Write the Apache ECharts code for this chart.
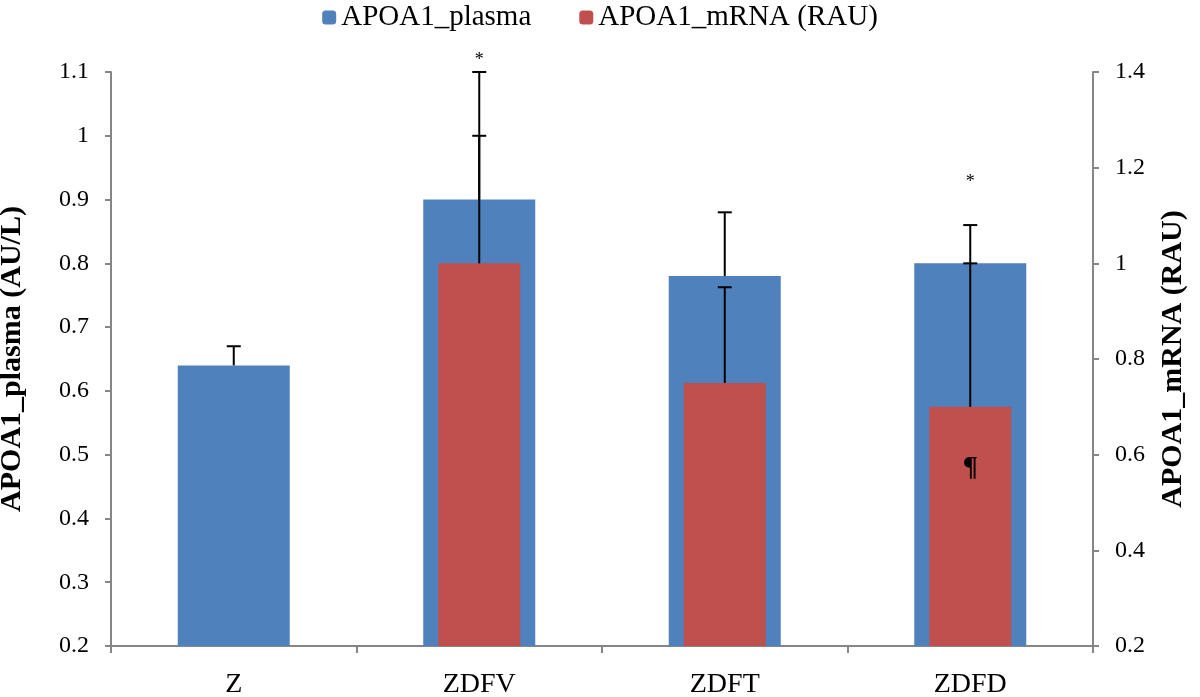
<!DOCTYPE html>
<html>
<head>
<meta charset="utf-8">
<script src="https://cdn.jsdelivr.net/npm/echarts@6/dist/echarts.min.js"></script>
<style>
  html, body { margin: 0; padding: 0; background: #fff; }
  #main { width: 1200px; height: 697px; }
</style>
</head>
<body>
<div id="main"></div>
<script>
// groups on the x axis
var groups = ['Z', 'ZDFV', 'ZDFT', 'ZDFD'];
// plasma (left axis, AU/L) and its + error
var plasma = [0.64, 0.90, 0.78, 0.80];
var plasmaErr = [0.03, 0.10, 0.10, 0.06];
// mRNA (right axis, RAU) and its + error, no value for Z
var mrna = [null, 1.0, 0.75, 0.70];
var mrnaErr = [null, 0.40, 0.20, 0.30];
// significance marks, placed on the left axis scale
var markGroup = [1, 3, 3];
var markValue = [1.118, 0.927, 0.480];
var markText = ['*', '*', '¶'];

var FONT = '"Liberation Serif", "Times New Roman", serif';
var GREY = '#868686';

function errData(vals, errs){
	var out = [];
	vals.forEach(function(v, i){
		if (v != null && errs[i] != null) out.push([i, v, errs[i]]);
	});
	return out;
}

// plus-only error bar with a cap at the top
function renderErr(params, api){
	var x = api.value(0);
	var lo = api.value(1);
	var hi = lo + api.value(2);
	var p0 = api.coord([x, lo]);
	var p1 = api.coord([x, hi]);
	var half = 7;
	return {
		type: 'group',
		children: [
			{type: 'line', shape: {x1: p0[0], y1: p0[1], x2: p1[0], y2: p1[1]}, style: {stroke: '#000', lineWidth: 2}},
			{type: 'line', shape: {x1: p1[0] - half, y1: p1[1], x2: p1[0] + half, y2: p1[1]}, style: {stroke: '#000', lineWidth: 2}}
		]
	};
}

function renderMark(params, api){
	var p = api.coord([api.value(0), api.value(1)]);
	var t = markText[params.dataIndex];
	return {
		type: 'text',
		x: p[0], y: p[1],
		style: {
			text: t,
			fill: '#000',
			font: (t == '*' ? '18px ' : 'bold 28px ') + FONT,
			align: 'center',
			verticalAlign: 'middle'
		}
	};
}

var markData = markGroup.map(function(g, i){ return [g, markValue[i]]; });

var chart = echarts.init(document.getElementById('main'));
var option = {
	animation: false,
	textStyle: {fontFamily: FONT, color: '#000'},
	legend: {
		top: 0,
		padding: [3, 5],
		left: 'center',
		itemWidth: 14,
		itemHeight: 14,
		itemGap: 48,
		data: ['APOA1_plasma', 'APOA1_mRNA (RAU)'],
		textStyle: {fontFamily: FONT, fontSize: 29, color: '#000'}
	},
	grid: {left: 111, right: 107, top: 72, bottom: 51, containLabel: false, outerBoundsMode: 'none'},
	xAxis: [
		{
			type: 'category',
			data: groups,
			axisLine: {lineStyle: {color: GREY, width: 2}},
			axisTick: {show: true, length: 7, lineStyle: {color: GREY, width: 2}},
			axisLabel: {fontFamily: FONT, fontSize: 28, color: '#000', margin: 25}
		},
		{
			type: 'category',
			data: groups,
			show: false
		}
	],
	yAxis: [
		{
			type: 'value',
			min: 0.2, max: 1.1, interval: 0.1,
			name: 'APOA1_plasma (AU/L)',
			nameLocation: 'middle',
			nameGap: 84,
			nameMoveOverlap: false,
			nameTextStyle: {fontFamily: FONT, fontSize: 30, fontWeight: 'bold', color: '#000'},
			axisLine: {show: true, lineStyle: {color: GREY, width: 2}},
			axisTick: {show: true, length: 6, lineStyle: {color: GREY, width: 2}},
			splitLine: {show: false},
			axisLabel: {fontFamily: FONT, fontSize: 24, color: '#000', margin: 22}
		},
		{
			type: 'value',
			min: 0.2, max: 1.4, interval: 0.2,
			name: 'APOA1_mRNA (RAU)',
			nameLocation: 'middle',
			nameGap: 65,
			nameMoveOverlap: false,
			nameTextStyle: {fontFamily: FONT, fontSize: 30, fontWeight: 'bold', color: '#000'},
			axisLine: {show: true, lineStyle: {color: GREY, width: 2}},
			axisTick: {show: true, length: 6, lineStyle: {color: GREY, width: 2}},
			splitLine: {show: false},
			axisLabel: {fontFamily: FONT, fontSize: 24, color: '#000', margin: 22}
		}
	],
	series: [
		{
			name: 'APOA1_plasma',
			type: 'bar',
			xAxisIndex: 0, yAxisIndex: 0,
			barWidth: 112,
			itemStyle: {color: '#4F81BD'},
			data: plasma
		},
		{
			name: 'APOA1_mRNA (RAU)',
			type: 'bar',
			xAxisIndex: 1, yAxisIndex: 1,
			barWidth: 82,
			itemStyle: {color: '#C0504D'},
			data: mrna
		},
		{
			name: 'plasmaErr',
			type: 'custom',
			xAxisIndex: 0, yAxisIndex: 0,
			renderItem: renderErr,
			z: 5,
			data: errData(plasma, plasmaErr)
		},
		{
			name: 'mrnaErr',
			type: 'custom',
			xAxisIndex: 1, yAxisIndex: 1,
			renderItem: renderErr,
			z: 5,
			data: errData(mrna, mrnaErr)
		},
		{
			name: 'marks',
			type: 'custom',
			xAxisIndex: 0, yAxisIndex: 0,
			renderItem: renderMark,
			z: 6,
			data: markData
		}
	]
};
chart.setOption(option);
</script>
</body>
</html>
